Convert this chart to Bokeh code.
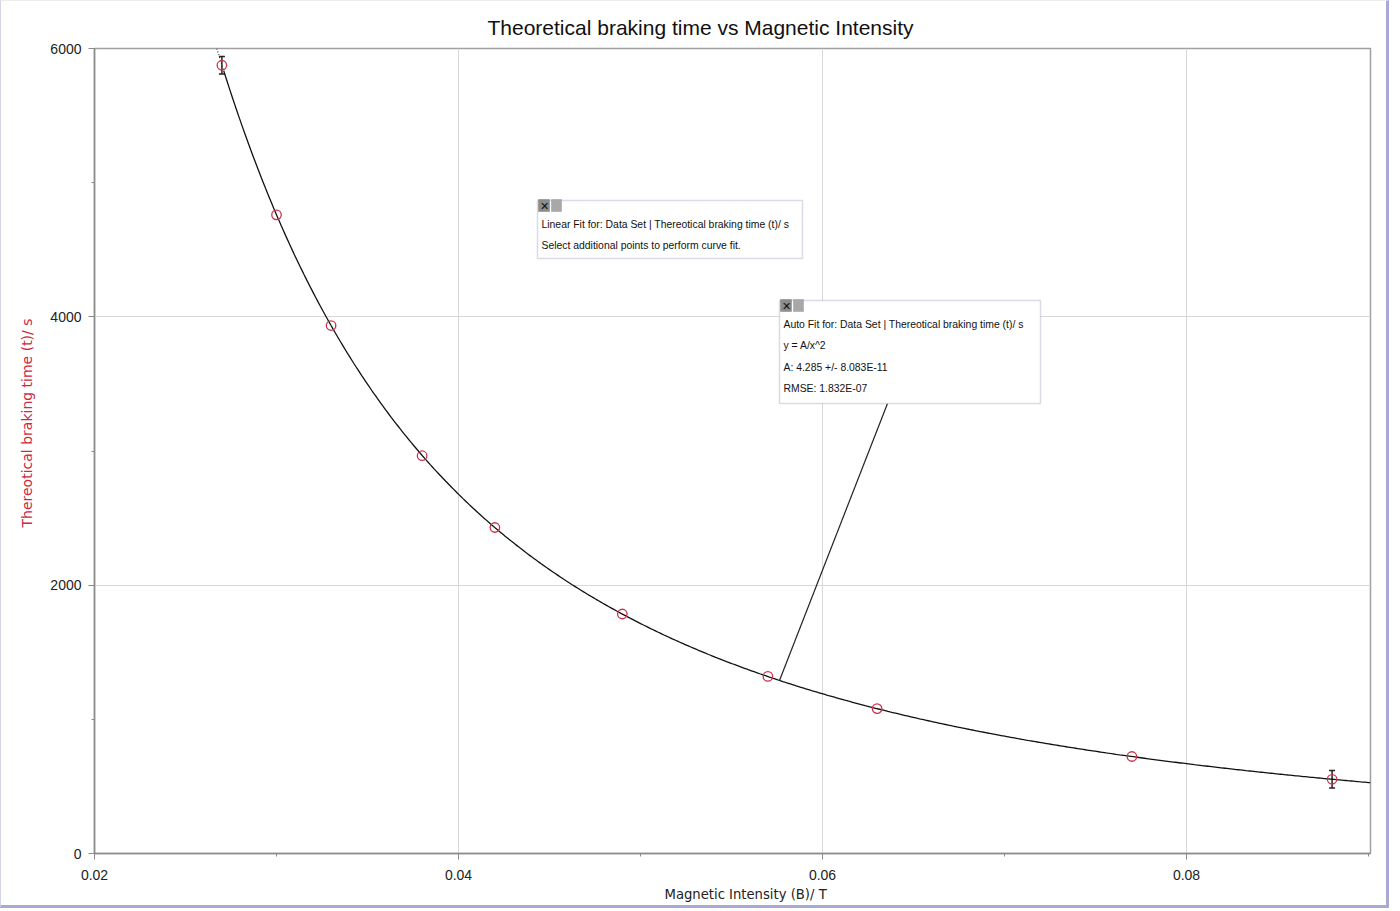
import numpy as np
from bokeh.plotting import figure
from bokeh.models import Range1d, FixedTicker, Label, BoxAnnotation, Whisker, ColumnDataSource, TeeHead, Title
from bokeh.embed import file_html
from bokeh.resources import INLINE

# ---- data ----
x_vals = [0.027, 0.030, 0.033, 0.038, 0.042, 0.049, 0.057, 0.063, 0.077, 0.088]
y_vals = [5875, 4760, 3935, 2965, 2430, 1785, 1320, 1080, 723, 553]
err_x = [0.027, 0.088]
err_y = [5875, 553]
err_half = [65, 65]
fit_A = 4.285
x_ticks = [0.02, 0.04, 0.06, 0.08]
x_minor = [0.03, 0.05, 0.07, 0.09]
y_ticks = [0, 2000, 4000, 6000]
y_minor = [1000, 3000, 5000]

title_text = "Theoretical braking time vs Magnetic Intensity"
x_label = "Magnetic Intensity (B)/ T"
y_label = "Thereotical braking time (t)/ s"
box1_lines = ["Linear Fit for: Data Set | Thereotical braking time (t)/ s",
              "Select additional points to perform curve fit."]
box2_lines = ["Auto Fit for: Data Set | Thereotical braking time (t)/ s",
              "y = A/x^2",
              "A: 4.285 +/- 8.083E-11",
              "RMSE: 1.832E-07"]

# ---- layout (pixels in the page) ----
FL, FR, FT, FB = 94, 1370, 48, 853   # frame edges in page pixels
FW, FH = FR - FL, FB - FT
X0 = 0.02
X1 = X0 + FW * 0.02 / 364.0
Y0, Y1 = 0, 6000


def sx(px):
    return X0 + (px - FL) * (X1 - X0) / FW


def sy(py):
    return Y0 + (FB - py) * (Y1 - Y0) / FH


FONT = "Liberation Sans"
FONT2 = "DejaVu Sans"
p = figure(width=1389, height=908, output_backend="svg", toolbar_location=None,
           x_range=Range1d(X0, X1), y_range=Range1d(Y0, Y1),
           min_border_left=93, min_border_right=20, min_border_top=47, min_border_bottom=56)
p.styles = {"border-right": "3px solid #a9a9d4", "border-bottom": "3px solid #a9a9d4",
            "border-left": "1px solid #d4d4e6", "border-top": "1px solid #ececec"}
p.background_fill_color = "white"
p.border_fill_color = "white"
p.outline_line_color = "#a0a0a0"
p.outline_line_width = 1.5

p.title.text = title_text
p.title.align = "left"
p.title.offset = 393
p.title.standoff = 19
p.title.text_font = FONT
p.title.text_font_size = "21px"
p.title.text_font_style = "normal"
p.title.text_color = "#111111"

# y axis label (placed as a side title so it sits where the reference has it)
p.add_layout(Title(text=y_label, align="left", offset=326, standoff=26, text_font=FONT2,
                   text_font_size="14px", text_font_style="normal", text_color="#d0283c"), "left")

p.xaxis.ticker = FixedTicker(ticks=x_ticks, minor_ticks=x_minor)
p.yaxis.ticker = FixedTicker(ticks=y_ticks, minor_ticks=y_minor)
p.xaxis.formatter.use_scientific = False
for ax in (p.xaxis, p.yaxis):
    ax.axis_line_color = "#8a8a8a"
    ax.axis_line_width = 1.5
    ax.major_tick_line_color = "#8a8a8a"
    ax.minor_tick_line_color = "#8a8a8a"
    ax.major_tick_in = 0
    ax.major_tick_out = 6
    ax.minor_tick_in = 0
    ax.minor_tick_out = 3
    ax.major_label_text_font = FONT
    ax.major_label_text_font_size = "14px"
    ax.major_label_text_color = "#222222"
p.xaxis.major_label_standoff = 10
p.yaxis.major_label_standoff = 7

# x axis label (below title, offset to match the reference position)
p.add_layout(Title(text=x_label, align="left", offset=570, standoff=5, text_font=FONT2,
                   text_font_size="13.2px", text_font_style="normal", text_color="#222222"), "below")

p.xgrid.grid_line_color = "#d8d8d8"
p.ygrid.grid_line_color = "#d8d8d8"

# fit curve
x_top = np.sqrt(fit_A / Y1)
x_solid = 0.0271
xd = np.linspace(x_top, x_solid, 20)
p.line(xd, fit_A / xd ** 2, line_color="#333333", line_width=1.2, line_dash="1 2")
xs = np.linspace(x_solid, X1, 600)
p.line(xs, fit_A / xs ** 2, line_color="#111111", line_width=1.3)

# error brackets
src_e = ColumnDataSource(dict(x=err_x, lo=[v - e for v, e in zip(err_y, err_half)],
                              hi=[v + e for v, e in zip(err_y, err_half)]))
p.add_layout(Whisker(source=src_e, base="x", lower="lo", upper="hi", dimension="height",
                     line_color="#222222", line_width=1.5,
                     upper_head=TeeHead(size=6, line_color="#222222", line_width=1.5),
                     lower_head=TeeHead(size=6, line_color="#222222", line_width=1.5)))

# data points
p.scatter(x_vals, y_vals, marker="circle", size=9.5, fill_color=None,
          line_color="#c8344c", line_width=1.3)

# connector from box 2 to the curve
xc = sx(779)
p.line([sx(887), xc], [sy(403), fit_A / xc ** 2], line_color="#222222", line_width=1.2)


def draw_box(left, top, right, bottom, lines, line_gap):
    p.add_layout(BoxAnnotation(left=sx(left), right=sx(right), top=sy(top), bottom=sy(bottom),
                               fill_color="white", fill_alpha=1.0, line_color="#8888a8",
                               line_width=1.5, level="overlay"))
    # close / minimise buttons
    p.add_layout(BoxAnnotation(left=sx(left + 1), right=sx(left + 12), top=sy(top - 1), bottom=sy(top + 11),
                               fill_color="#8c8c8c", fill_alpha=1.0, line_color="#555555",
                               line_width=1, level="overlay"))
    p.add_layout(BoxAnnotation(left=sx(left + 14), right=sx(left + 24), top=sy(top - 1), bottom=sy(top + 11),
                               fill_color="#a8a8a8", fill_alpha=1.0, line_color="#777777",
                               line_width=1, level="overlay"))
    p.add_layout(Label(x=sx(left + 6.5), y=sy(top + 5), text="✕", text_align="center",
                       text_baseline="middle", text_font_size="11px", text_color="#111111",
                       text_font=FONT, level="overlay"))
    for i, t in enumerate(lines):
        p.add_layout(Label(x=sx(left + 4), y=sy(top + 24 + i * line_gap), text=t,
                           text_align="left", text_baseline="middle", text_font=FONT,
                           text_font_size="10.4px", text_color="#111111", level="overlay"))


draw_box(537, 200, 802, 258, box1_lines, 21)
draw_box(779, 300, 1040, 403, box2_lines, 21.3)

open("out.html", "w").write(file_html(p, INLINE))
